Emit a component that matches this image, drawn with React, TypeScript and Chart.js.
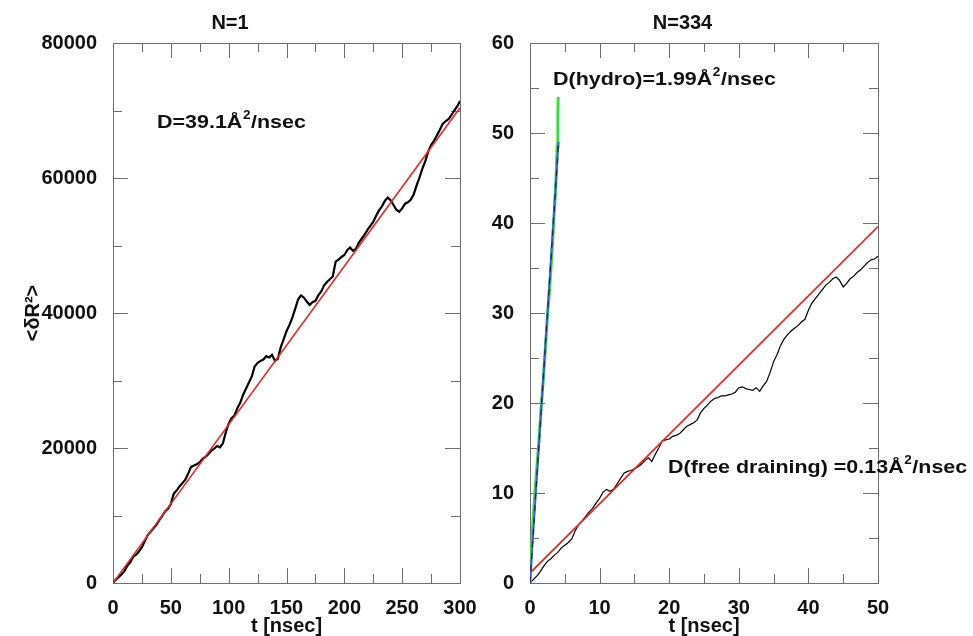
import { useEffect, useRef } from "react";
import { Chart, registerables } from "chart.js";

Chart.register(...registerables);

const FONT = '"Liberation Sans", Arial, Helvetica, sans-serif';

// ---------- Left panel (N=1) ----------
const leftTitle = "N=1";
const leftTime = [
  0, 2.5, 5, 7.5, 10, 12.5, 15, 17.5, 20, 22.5, 25, 27.5, 30, 32.5, 35, 37.5, 40, 42.5, 45, 47.5,
  50, 52.5, 55, 57.5, 60, 62.5, 65, 67.5, 70, 72.5, 75, 77.5, 80, 82.5, 85, 87.5, 90, 92.5, 95, 97.5,
  100, 102.5, 105, 107.5, 110, 112.5, 115, 117.5, 120, 122.5, 125, 127.5, 130, 132.5, 135, 137.5, 140, 142.5, 145, 147.5,
  150, 152.5, 155, 157.5, 160, 162.5, 165, 167.5, 170, 172.5, 175, 177.5, 180, 182.5, 185, 187.5, 190, 192.5, 195, 197.5,
  200, 202.5, 205, 207.5, 210, 212.5, 215, 217.5, 220, 222.5, 225, 227.5, 230, 232.5, 235, 237.5, 240, 242.5, 245, 247.5,
  250, 252.5, 255, 257.5, 260, 262.5, 265, 267.5, 270, 272.5, 275, 277.5, 280, 282.5, 285, 287.5, 290, 292.5, 295, 297.5, 300,
];
const leftMsd = [
  0, 500, 900, 1300, 1800, 2600, 3100, 3900, 4200, 4700, 5300, 6200, 7100, 7600, 8100, 8600, 9300, 9900, 10600, 11000,
  11700, 13200, 13700, 14300, 14800, 15300, 16200, 17200, 17400, 17600, 17900, 18400, 18700, 19100, 19600, 19900, 20300, 20100, 20700, 22300,
  23600, 24400, 24800, 25900, 26700, 27900, 28800, 29700, 30600, 32100, 32600, 32900, 33100, 33600, 33400, 33800, 32900, 33200, 34900, 36100,
  37300, 38200, 39300, 40600, 42000, 42600, 42300, 41700, 41200, 41600, 41800, 42600, 43200, 44100, 44600, 45000, 45400, 47600, 47900, 48300,
  48600, 49300, 49700, 49200, 49500, 50400, 51000, 51600, 52300, 52900, 53500, 54400, 55200, 55800, 56600, 57100, 56700, 56000, 55300, 55000,
  55500, 56200, 56400, 56800, 57600, 58900, 60100, 61400, 62500, 63900, 64900, 65500, 66300, 67100, 68000, 68400, 68700, 69300, 70000, 70600, 71400,
];
const leftFitTime = [0, 300];
const leftFitMsd = [0, 70400];
const leftXLabel = "t [nsec]";
const leftYLabel = "<δR²>";

// ---------- Right panel (N=334) ----------
const rightTitle = "N=334";
const rightTime = [
  0, 0.5, 1, 1.5, 2, 2.5, 3, 3.5, 4, 4.5, 5, 5.5, 6, 6.5, 7, 7.5, 8, 8.5, 9, 9.5,
  10, 10.5, 11, 11.5, 12, 12.5, 13, 13.5, 14, 14.5, 15, 15.5, 16, 16.5, 17, 17.5, 18, 18.5, 19, 19.5,
  20, 20.5, 21, 21.5, 22, 22.5, 23, 23.5, 24, 24.5, 25, 25.5, 26, 26.5, 27, 27.5, 28, 28.5, 29, 29.5,
  30, 30.5, 31, 31.5, 32, 32.5, 33, 33.5, 34, 34.5, 35, 35.5, 36, 36.5, 37, 37.5, 38, 38.5, 39, 39.5,
  40, 40.5, 41, 41.5, 42, 42.5, 43, 43.5, 44, 44.5, 45, 45.5, 46, 46.5, 47, 47.5, 48, 48.5, 49, 49.5, 50,
];
const rightMsd = [
  0, 0.4, 0.8, 1.3, 1.9, 2.4, 2.7, 3.1, 3.4, 3.9, 4.2, 4.5, 4.9, 5.8, 6.5, 6.9, 7.4, 7.9, 8.3, 8.9,
  9.4, 10.1, 10.4, 10.2, 10.4, 11.0, 11.6, 12.2, 12.4, 12.5, 12.7, 12.9, 13.2, 13.6, 13.9, 13.5, 14.3, 15.0, 15.8, 15.9,
  16.0, 16.3, 16.4, 16.6, 17.0, 17.4, 17.6, 17.8, 18.1, 18.9, 19.4, 19.8, 20.2, 20.5, 20.6, 20.8, 20.8, 20.9, 21.0, 21.2,
  21.7, 21.8, 21.6, 21.5, 21.4, 21.7, 21.3, 21.9, 22.4, 23.4, 24.6, 25.4, 26.4, 27.1, 27.6, 28.0, 28.3, 28.6, 29.0, 29.3,
  30.3, 31.1, 31.6, 32.1, 32.6, 33.1, 33.4, 33.8, 34.0, 33.6, 32.9, 33.3, 33.8, 34.1, 34.5, 34.8, 35.2, 35.6, 35.9, 36.0, 36.3,
];
const rightFitTime = [0, 50];
const rightFitMsd = [1.1, 39.6];
const hydroTime = [0, 0.15, 0.4, 0.7, 1.0, 1.3, 1.6, 1.9, 2.2, 2.5, 2.8, 3.1, 3.4, 3.7, 3.9, 4.0, 4.05];
const hydroMsd = [0, 3, 6.5, 10, 13, 16, 19.5, 22.5, 26, 29.5, 32.5, 36, 40, 44, 48.5, 52, 54];
const hydroFitTime = [0, 4.1];
const hydroFitMsd = [0, 49];
const rightXLabel = "t [nsec]";

const pairs = (xs: number[], ys: number[]) => xs.map((x, i) => ({ x, y: ys[i] }));

const framePlugin = {
  id: "frame",
  beforeDatasetsDraw(chart: any, _args: any, opts: any) {
    const { ctx, chartArea: a } = chart;
    const xs = chart.scales.x;
    const ys = chart.scales.y;
    ctx.save();
    ctx.strokeStyle = "#6e6e6e";
    ctx.lineWidth = 1;
    ctx.strokeRect(Math.round(a.left) + 0.5, Math.round(a.top) + 0.5, Math.round(a.right - a.left), Math.round(a.bottom - a.top));
    ctx.beginPath();
    const nx = Math.round((xs.max - xs.min) / opts.xMinor);
    for (let i = 0; i <= nx; i++) {
      const v = xs.min + i * opts.xMinor;
      const major = Math.abs(v / opts.xMajor - Math.round(v / opts.xMajor)) < 1e-6;
      const len = major ? 15 : 9;
      const px = Math.round(xs.getPixelForValue(v)) + 0.5;
      ctx.moveTo(px, a.bottom);
      ctx.lineTo(px, a.bottom - len);
      ctx.moveTo(px, a.top);
      ctx.lineTo(px, a.top + len);
    }
    const ny = Math.round((ys.max - ys.min) / opts.yMinor);
    for (let i = 0; i <= ny; i++) {
      const v = ys.min + i * opts.yMinor;
      const major = Math.abs(v / opts.yMajor - Math.round(v / opts.yMajor)) < 1e-6;
      const len = major ? 15 : 9;
      const py = Math.round(ys.getPixelForValue(v)) + 0.5;
      ctx.moveTo(a.left, py);
      ctx.lineTo(a.left + len, py);
      ctx.moveTo(a.right, py);
      ctx.lineTo(a.right - len, py);
    }
    ctx.stroke();
    ctx.restore();
  },
};

const notePlugin = {
  id: "notes",
  afterDraw(chart: any, _args: any, opts: any) {
    const { ctx } = chart;
    ctx.save();
    ctx.fillStyle = "#111";
    ctx.textBaseline = "alphabetic";
    for (const it of opts.items || []) {
      ctx.save();
      ctx.translate(it.x, it.y);
      ctx.scale(1.13, 1);
      ctx.font = `bold 19px ${FONT}`;
      ctx.fillText(it.main, 0, 0);
      let w = ctx.measureText(it.main).width;
      ctx.font = `bold 12px ${FONT}`;
      ctx.fillText(it.sup, w + 0.5, -9);
      w += ctx.measureText(it.sup).width + 1;
      ctx.font = `bold 19px ${FONT}`;
      ctx.fillText(it.tail, w, 0);
      ctx.restore();
    }
    ctx.restore();
  },
};

function makeChart(canvas: HTMLCanvasElement, cfg: any) {
  const font = { family: FONT, size: 20, weight: "bold" as const };
  return new Chart(canvas, {
    type: "line",
    data: { datasets: cfg.datasets },
    plugins: [framePlugin, notePlugin],
    options: {
      responsive: false,
      animation: false,
      events: [],
      layout: { padding: { left: 0, right: cfg.padRight, top: 0, bottom: 0 } },
      plugins: {
        legend: { display: false },
        tooltip: { enabled: false },
        title: { display: true, text: cfg.title, color: "#111", font, padding: { top: 11, bottom: 8 } },
        frame: cfg.frame,
        notes: { items: cfg.notes },
      } as any,
      scales: {
        x: {
          type: "linear",
          min: cfg.xMin,
          max: cfg.xMax,
          grid: { display: false },
          border: { display: false },
          ticks: { stepSize: cfg.xStep, autoSkip: false, maxRotation: 0, color: "#111", font, padding: 5, callback: (v: any) => String(v) },
          title: { display: true, text: cfg.xLabel, color: "#111", font, padding: { top: 0, bottom: -2 } },
          afterFit: (s: any) => { s.height = 53; },
        },
        y: {
          type: "linear",
          min: cfg.yMin,
          max: cfg.yMax,
          grid: { display: false },
          border: { display: false },
          ticks: { stepSize: cfg.yStep, autoSkip: false, color: "#111", font, padding: 8, callback: (v: any) => String(v) },
          title: { display: !!cfg.yLabel, text: cfg.yLabel || "", color: "#111", font, padding: { top: 21, bottom: 0 } },
          afterFit: (s: any) => { s.width = cfg.yWidth; },
        },
      },
      elements: { point: { radius: 0 }, line: { tension: 0 } },
    },
  });
}

export default function App() {
  const leftRef = useRef<HTMLCanvasElement>(null);
  const rightRef = useRef<HTMLCanvasElement>(null);

  useEffect(() => {
    const left = makeChart(leftRef.current!, {
      title: leftTitle,
      xLabel: leftXLabel,
      yLabel: leftYLabel,
      xMin: 0, xMax: 300, xStep: 50,
      yMin: 0, yMax: 80000, yStep: 20000,
      yWidth: 113,
      padRight: 27,
      frame: { xMajor: 50, xMinor: 25, yMajor: 20000, yMinor: 10000 },
      notes: [{ x: 157, y: 128, main: "D=39.1Å", sup: "2", tail: "/nsec" }],
      datasets: [
        { data: pairs(leftFitTime, leftFitMsd), borderColor: "#e02b2b", borderWidth: 1.6 },
        { data: pairs(leftTime, leftMsd), borderColor: "#000", borderWidth: 2.2 },
      ],
    });
    const right = makeChart(rightRef.current!, {
      title: rightTitle,
      xLabel: rightXLabel,
      yLabel: "",
      xMin: 0, xMax: 50, xStep: 10,
      yMin: 0, yMax: 60, yStep: 10,
      yWidth: 43,
      padRight: 95,
      frame: { xMajor: 10, xMinor: 5, yMajor: 10, yMinor: 5 },
      notes: [
        { x: 66, y: 85, main: "D(hydro)=1.99Å", sup: "2", tail: "/nsec" },
        { x: 181, y: 473, main: "D(free draining) =0.13Å", sup: "2", tail: "/nsec" },
      ],
      datasets: [
        { data: pairs(hydroFitTime, hydroFitMsd), borderColor: "#1a1a40", borderWidth: 1, borderDash: [6, 6] },
        { data: pairs(hydroFitTime, hydroFitMsd), borderColor: "#3d5fd8", borderWidth: 2 },
        { data: pairs(hydroTime, hydroMsd), borderColor: "#3fdc3f", borderWidth: 3 },
        { data: pairs(rightFitTime, rightFitMsd), borderColor: "#e02b2b", borderWidth: 1.8 },
        { data: pairs(rightTime, rightMsd), borderColor: "#000", borderWidth: 1.2 },
      ],
    });
    return () => {
      left.destroy();
      right.destroy();
    };
  }, []);

  return (
    <div style={{ position: "fixed", left: 0, top: 0, width: 973, height: 636, background: "#fff", overflow: "hidden" }}>
      <canvas ref={leftRef} width={487} height={636} style={{ position: "absolute", left: 0, top: 0 }} />
      <canvas ref={rightRef} width={486} height={636} style={{ position: "absolute", left: 487, top: 0 }} />
    </div>
  );
}
